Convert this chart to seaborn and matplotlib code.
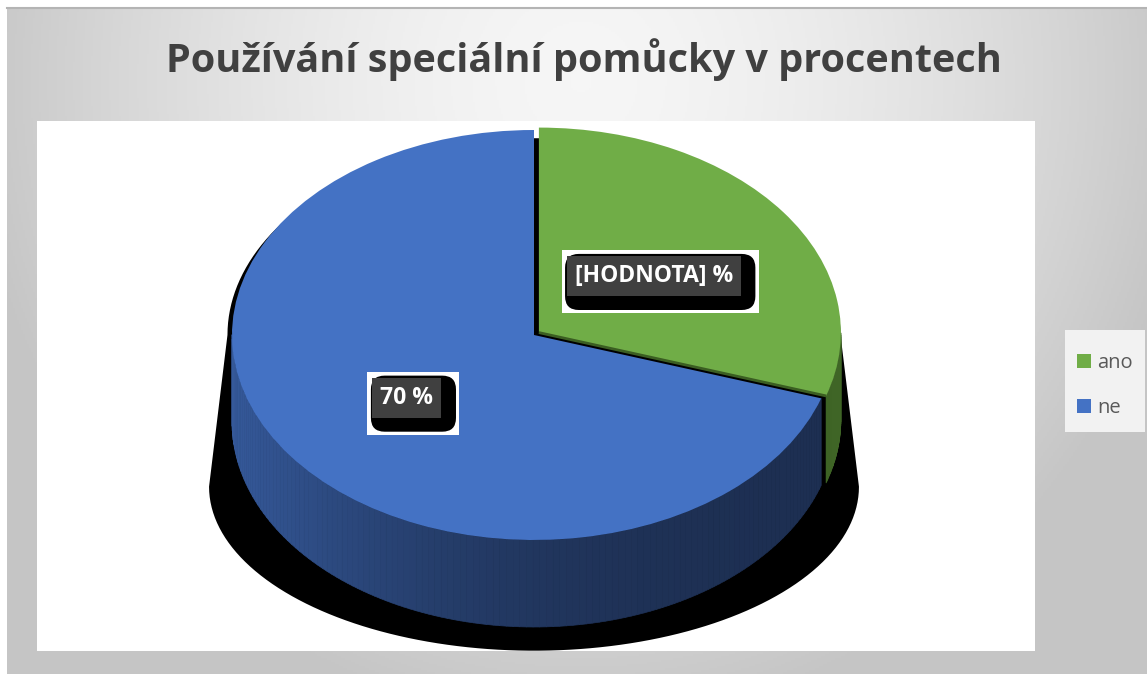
import numpy as np
import matplotlib
matplotlib.use("Agg")
import matplotlib.pyplot as plt
import seaborn as sns
from matplotlib.patches import Patch, Polygon, Rectangle, FancyBboxPatch
from matplotlib.collections import PolyCollection
from matplotlib.colors import to_rgb
from matplotlib.transforms import IdentityTransform

# Data
kategorie = ["ano", "ne"]
hodnoty = [30, 70]
popisky = ["[HODNOTA] %", "70 %"]
barvy = ["#70ad47", "#4472c4"]
nadpis = "Používání speciální pomůcky v procentech"

# bocni stena (svetla / tmava varianta)
bok_svetla = ["#5a8a3a", "#35599a"]
bok_tmava = ["#3f6526", "#1d2f52"]

sns.set_style("white")
plt.rcParams["font.family"] = ["Open Sans", "DejaVu Sans"]

W, H = 1147, 674
fig = plt.figure(figsize=(W / 100, H / 100), dpi=100)

# Pozadi s gradientem
bg = fig.add_axes([7 / W, 0, 1 - 7 / W, 1 - 8 / H], zorder=-10)
ny, nx = 333, 570
yy, xx = np.mgrid[0:ny, 0:nx]
px = xx / nx * (W - 7) + 7
py = yy / ny * (H - 8) + 8
d = np.sqrt(((px - 580) / 610) ** 2 + ((py - 80) / 640) ** 2)
d = np.clip(d, 0, 1) ** 1.6
c0, c1 = 0.965, 0.775
img = c0 + (c1 - c0) * d
bg.imshow(np.dstack([img, img, img]), aspect="auto", extent=(0, 1, 0, 1))
bg.set_xlim(0, 1)
bg.set_ylim(0, 1)
bg.set_xticks([])
bg.set_yticks([])
for s in ["left", "right", "bottom"]:
    bg.spines[s].set_visible(False)
bg.spines["top"].set_color("#b4b4b4")
bg.spines["top"].set_linewidth(1.5)

# Osa s kolacem
ax = fig.add_axes([37 / W, 1 - 651 / H, 998 / W, 530 / H])
RX, RY = 302, 205
cx_px, cy_px = 534 - 37, 335 - 121
D = 87 / RY

wedges, _ = ax.pie(
    hodnoty,
    colors=barvy,
    startangle=90,
    counterclock=False,
    explode=(0.02, 0),
    radius=1,
    wedgeprops=dict(linewidth=0, zorder=4),
)
ax.set_aspect("auto")
ax.set_xlim(-cx_px / RX, (998 - cx_px) / RX)
ax.set_ylim(-(530 - cy_px) / RY, cy_px / RY)
ax.set_facecolor("white")
ax.set_frame_on(True)
for s in ax.spines.values():
    s.set_visible(False)
ax.set_xticks([])
ax.set_yticks([])

# Stin
t = np.linspace(0, np.pi, 100)
horni = np.column_stack([1.015 * np.cos(t), 0.96 * np.sin(t)])
t2 = np.linspace(np.pi, 2 * np.pi, 100)
dolni = np.column_stack([1.076 * np.cos(t2), -0.74 + 0.80 * np.sin(t2)])
ax.add_patch(Polygon(np.vstack([horni, dolni]), closed=True, fc="black", ec="none", zorder=1))

# Bocni stena
quads, cols = [], []
for w, sv, tm in zip(wedges, bok_svetla, bok_tmava):
    cx, cy = w.center
    th = np.deg2rad(np.linspace(w.theta1, w.theta2, 200))
    for a, b in zip(th[:-1], th[1:]):
        if np.sin((a + b) / 2) > 0:
            continue
        quads.append([
            (cx + np.cos(a), cy + np.sin(a)),
            (cx + np.cos(b), cy + np.sin(b)),
            (cx + np.cos(b), cy + np.sin(b) - D),
            (cx + np.cos(a), cy + np.sin(a) - D),
        ])
        f = ((1 - np.cos((a + b) / 2)) / 2) ** 2.5
        cols.append(tuple(np.array(to_rgb(tm)) + (np.array(to_rgb(sv)) - np.array(to_rgb(tm))) * f))
ax.add_collection(PolyCollection(quads, facecolors=cols, edgecolors=cols, linewidths=0.5, zorder=2))

# tmava hrana zeleneho dilu
gw = wedges[0]
ta = np.deg2rad(gw.theta1)
ax.plot([gw.center[0], gw.center[0] + np.cos(ta)], [gw.center[1], gw.center[1] + np.sin(ta)],
        color="#3b5e22", lw=2, zorder=5, solid_capstyle="butt")

# Popisky
fs = 16.5
texty = []
for w, txt, r in zip(wedges, popisky, [0.47, 0.52]):
    tm = np.deg2rad((w.theta1 + w.theta2) / 2)
    x = w.center[0] + r * np.cos(tm)
    y = w.center[1] + r * np.sin(tm)
    texty.append(ax.text(x, y, txt, ha="center", va="center", fontsize=fs, fontweight="bold",
                         color="white", zorder=8,
                         bbox=dict(boxstyle="square,pad=0.35", fc="#404040", ec="none")))

# ramecky za popisky (bily ctverec + cerny zaobleny stin)
fig.canvas.draw()
fpx = fs * fig.dpi / 72
for tx in texty:
    bb = tx.get_window_extent()
    dx, dy = 6.5, -6
    p_w = 0.85 * fpx
    ax.add_patch(Rectangle((bb.x0 + dx - p_w, bb.y0 + dy - p_w), bb.width + 2 * p_w, bb.height + 2 * p_w,
                           transform=IdentityTransform(), fc="white", ec="none", zorder=6, clip_on=False))
    p_b = 0.7 * fpx
    ax.add_patch(FancyBboxPatch((bb.x0 + dx, bb.y0 + dy), bb.width, bb.height,
                                boxstyle=f"round,pad={p_b},rounding_size={0.6 * fpx}",
                                transform=IdentityTransform(), fc="black", ec="none", zorder=7, clip_on=False))

# Nadpis
fig.text(584 / W, 1 - 60 / H, nadpis, ha="center", va="center", fontsize=28.5,
         fontweight="bold", color="#404040")

# Legenda
fig.patches.append(Rectangle((1065 / W, 1 - 432 / H), 80 / W, 102 / H, transform=fig.transFigure,
                             fc="#f2f2f2", ec="none", zorder=1))
handles = [Patch(facecolor=c, edgecolor="none") for c in barvy]
leg = fig.legend(handles, kategorie, loc="center left", bbox_to_anchor=(1077 / W, 1 - 385.5 / H),
                 frameon=False, handlelength=0.69, handleheight=0.69, handletextpad=0.3,
                 labelspacing=1.25, borderpad=0, borderaxespad=0, fontsize=14.5)
for tx in leg.get_texts():
    tx.set_color("#595959")

fig.savefig("out.png", dpi=100, facecolor="white")
